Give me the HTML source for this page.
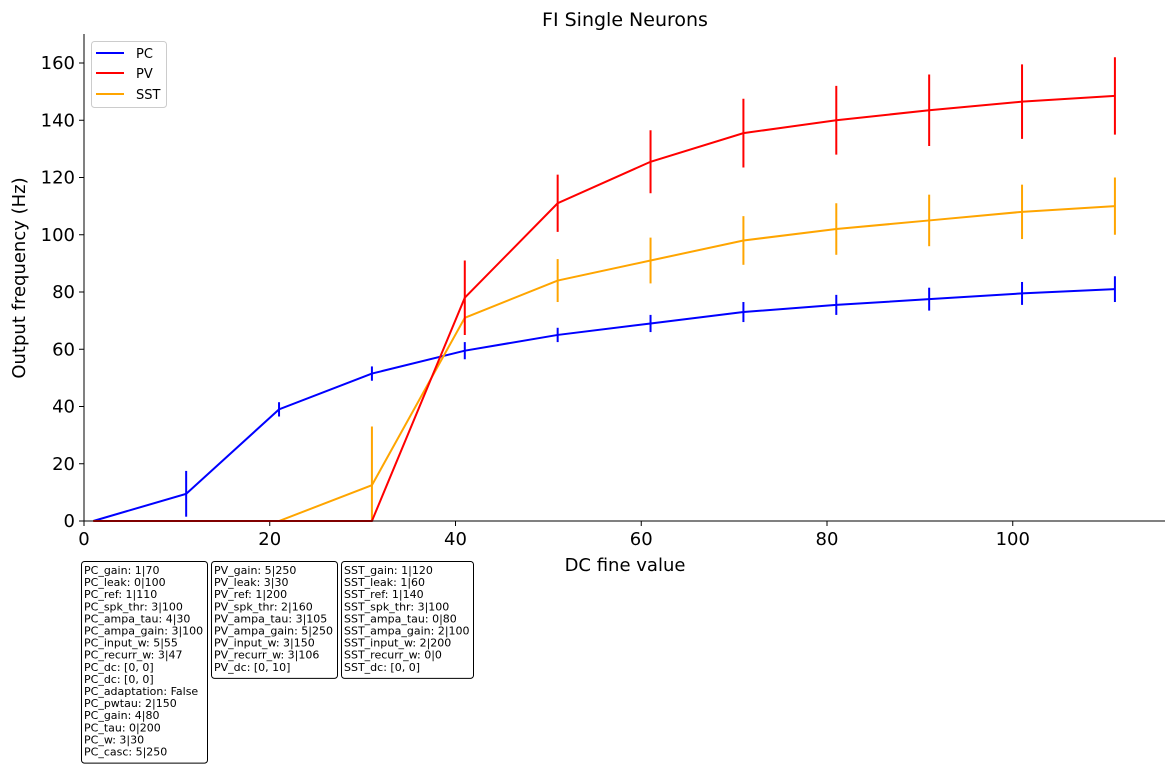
<!DOCTYPE html>
<html><head><meta charset="utf-8"><style>
body{margin:0;background:#fff;font-family:"Liberation Sans","DejaVu Sans",sans-serif}
svg text{font-family:"DejaVu Sans","Liberation Sans",sans-serif}
</style></head><body>
<svg id="chart" width="1175" height="773" xmlns="http://www.w3.org/2000/svg">
<text x="625" y="26" font-size="19" text-anchor="middle">FI Single Neurons</text>
<g id="plot"></g>
<line x1="84" y1="34" x2="84" y2="521" stroke="#000" stroke-width="1"/>
<line x1="84" y1="521" x2="1165" y2="521" stroke="#000" stroke-width="1"/>
<text x="625" y="571" font-size="18" text-anchor="middle">DC fine value</text>
<text transform="translate(25,278) rotate(-90)" font-size="18" text-anchor="middle">Output frequency (Hz)</text>
<g>
<rect x="91.5" y="41.5" width="75" height="66" rx="3" fill="#fff" stroke="#ccc"/>
<line x1="96" y1="53" x2="124" y2="53" stroke="blue" stroke-width="2"/><text x="136" y="58" font-size="13">PC</text>
<line x1="96" y1="73" x2="124" y2="73" stroke="red" stroke-width="2"/><text x="136" y="78" font-size="13">PV</text>
<line x1="96" y1="94" x2="124" y2="94" stroke="orange" stroke-width="2"/><text x="136" y="99" font-size="13">SST</text>
</g>
<g id="boxes"></g>
</svg>
<script>
const xs=[1,11,21,31,41,51,61,71,81,91,101,111];
const pcVals=[0,9.5,39,51.5,59.5,65,69,73,75.5,77.5,79.5,81];
const pcErr=[0,8,2.5,2.5,3,2.5,3,3.5,3.5,4,4,4.5];
const pvVals=[0,0,0,0,78,111,125.5,135.5,140,143.5,146.5,148.5];
const pvErr=[0,0,0,0,13,10,11,12,12,12.5,13,13.5];
const sstVals=[0,0,0,12.5,71,84,91,98,102,105,108,110];
const sstErr=[0,0,0,20.5,0,7.5,8,8.5,9,9,9.5,10];
const xTicks=[0,20,40,60,80,100];
const yTicks=[0,20,40,60,80,100,120,140,160];
const pcText=["PC_gain: 1|70","PC_leak: 0|100","PC_ref: 1|110","PC_spk_thr: 3|100","PC_ampa_tau: 4|30","PC_ampa_gain: 3|100","PC_input_w: 5|55","PC_recurr_w: 3|47","PC_dc: [0, 0]","PC_dc: [0, 0]","PC_adaptation: False","PC_pwtau: 2|150","PC_gain: 4|80","PC_tau: 0|200","PC_w: 3|30","PC_casc: 5|250"];
const pvText=["PV_gain: 5|250","PV_leak: 3|30","PV_ref: 1|200","PV_spk_thr: 2|160","PV_ampa_tau: 3|105","PV_ampa_gain: 5|250","PV_input_w: 3|150","PV_recurr_w: 3|106","PV_dc: [0, 10]"];
const sstText=["SST_gain: 1|120","SST_leak: 1|60","SST_ref: 1|140","SST_spk_thr: 3|100","SST_ampa_tau: 0|80","SST_ampa_gain: 2|100","SST_input_w: 2|200","SST_recurr_w: 0|0","SST_dc: [0, 0]"];
const NS="http://www.w3.org/2000/svg";
const X=v=>84+v*9.2875, Y=v=>521-v*2.8625;
const plot=document.getElementById('plot');
function mk(tag,attrs,parent){const e=document.createElementNS(NS,tag);for(const k in attrs)e.setAttribute(k,attrs[k]);parent.appendChild(e);return e;}
xTicks.forEach(t=>{
 const l=mk('line',{x1:X(t),x2:X(t),y1:521,y2:526,stroke:'#000'},plot);
 
 
 const s=mk('text',{x:X(t),y:545,'font-size':18,'text-anchor':'middle'},plot);s.textContent=t;
 
 
});
yTicks.forEach(t=>{
 const l=mk('line',{x1:79,x2:84,y1:Y(t),y2:Y(t),stroke:'#000'},plot);
 
 
 const s=mk('text',{x:75,y:Y(t)+6,'font-size':18,'text-anchor':'end'},plot);s.textContent=t;
 
 
});
function series(vals,errs,color,name){
 const g=mk('g',{},plot);
 
 
 const p=mk('polyline',{points:xs.map((x,i)=>X(x)+','+Y(vals[i])).join(' '),fill:'none',stroke:color,'stroke-width':2},g);
 
 
 xs.forEach((x,i)=>{if(errs[i]>0){
  const e=mk('line',{x1:X(x),x2:X(x),y1:Y(Math.max(0,vals[i]-errs[i])),y2:Y(vals[i]+errs[i]),stroke:color,'stroke-width':2},g);
  
  
 }});
}
series(pcVals,pcErr,'blue','pc');
series(sstVals,sstErr,'orange','sst');
series(pvVals,pvErr,'red','pv');
const boxes=document.getElementById('boxes');
function box(lines,x,w,name){
 const g=mk('g',{},boxes);
 
 
 mk('rect',{x:x+0.5,y:561.5,width:w,height:lines.length*12.1+8,rx:3,fill:'#fff',stroke:'#000'},g);
 lines.forEach((s,i)=>{const t=mk('text',{x:x+3,y:574+i*12.1,'font-size':11},g);t.textContent=s;});
}
box(pcText,81,126,'pc-params-box');
box(pvText,211,126,'pv-params-box');
box(sstText,341,132,'sst-params-box');
</script>
</body></html>
